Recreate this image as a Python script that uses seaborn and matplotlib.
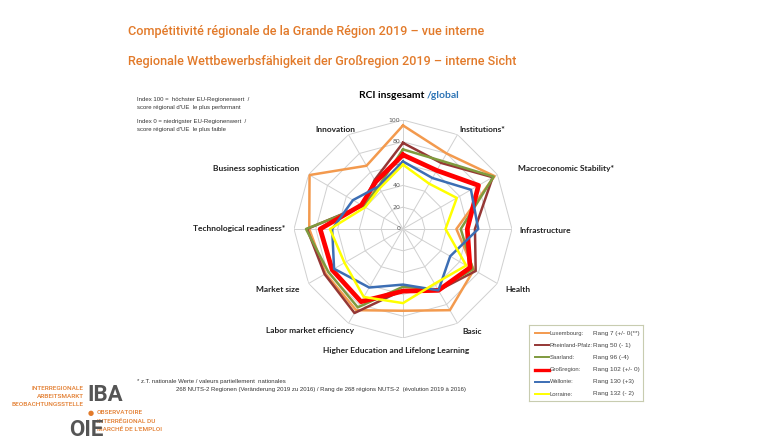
import numpy as np
import pandas as pd
import matplotlib.pyplot as plt
import seaborn as sns

plt.switch_backend('Agg')

# Axes of the radar, clockwise starting at the top
axes_labels = ['RCI', 'Institutions*', 'Macroeconomic Stability*', 'Infrastructure', 'Health', 'Basic',
               'Higher Education and Lifelong Learning', 'Labor market efficiency', 'Market size',
               'Technological readiness*', 'Business sophistication', 'Innovation']

regions = ['Luxembourg:', 'Rheinland-Pfalz:', 'Saarland:', 'Großregion:', 'Wallonie:', 'Lorraine:']
ranks = ['Rang 7 (+/- 0(**)', 'Rang 50 (- 1)', 'Rang 96 (-4)', 'Rang 102 (+/- 0)', 'Rang 130 (+3)', 'Rang 132 (- 2)']

luxembourg = [95, 80, 97, 49, 75, 86, 75, 86, 82, 86, 99, 67]
rheinland_pfalz = [79, 70, 95, 66, 77, 65, 56, 89, 83, 88, 43, 52]
saarland = [73, 72, 96, 53, 74, 64, 53, 83, 79, 89, 42, 45]
grossregion = [68, 62, 80, 59, 71, 65, 57, 77, 75, 76, 44, 50]
wallonie = [62, 54, 72, 69, 50, 65, 51, 62, 73, 65, 53, 45]
lorraine = [59, 48, 57, 39, 67, 58, 68, 72, 62, 67, 40, 43]

ring_values = [20, 40, 60, 80, 100]
tick_values = [0, 20, 40, 60, 80, 100]

series = [luxembourg, rheinland_pfalz, saarland, grossregion, wallonie, lorraine]
colors = ['#F39A4E', '#953735', '#7F9A3E', '#FF0000', '#3C6EB4', '#FFFF00']
widths = [1.8, 1.8, 1.8, 3.4, 1.8, 1.8]

orange = '#E27A2A'
grid_col = '#D0D0D0'

# Long table for seaborn
n = len(axes_labels)
theta = np.linspace(0, 2 * np.pi, n, endpoint=False)
rows = []
for name, vals in zip(regions, series):
    for t, v in zip(list(theta) + [theta[0] + 2 * np.pi], list(vals) + [vals[0]]):
        rows.append({'region': name, 'theta': t, 'value': v})
df = pd.DataFrame(rows)

fig = plt.figure(figsize=(7.68, 4.45), dpi=100)
fig.patch.set_facecolor('white')

W, H = 768, 445
cx, cy, R = 403, 229, 109
ax = fig.add_axes([(cx - R) / W, (H - cy - R) / H, 2 * R / W, 2 * R / H], projection='polar')
ax.set_theta_zero_location('N')
ax.set_theta_direction(-1)
ax.set_ylim(0, 100)
ax.grid(False)
ax.set_xticks([])
ax.set_yticks([])
ax.spines['polar'].set_visible(False)
ax.patch.set_alpha(0)

# Polygon grid
closed = np.append(theta, theta[0] + 2 * np.pi)
for r in ring_values:
    ax.plot(closed, [r] * len(closed), color=grid_col, lw=0.7, zorder=1)
for t in theta:
    ax.plot([t, t], [0, 100], color=grid_col, lw=0.7, zorder=1)
for r in tick_values:
    ax.annotate(str(r), xy=(0, r), xytext=(-2, 0), textcoords='offset points',
                ha='right', va='center', fontsize=4.5, color='#595959')

for name, col, lw in zip(regions, colors, widths):
    sub = df[df['region'] == name]
    sns.lineplot(data=sub, x='theta', y='value', sort=False, estimator=None,
                 color=col, linewidth=lw, ax=ax, zorder=3)
ax.set_xlabel('')
ax.set_ylabel('')
ax.set_ylim(0, 100)

# Titles
fig.text(128 / W, 1 - 32 / H, 'Compétitivité régionale de la Grande Région 2019 – vue interne',
         color=orange, fontsize=9.1, family='Roboto', weight='medium', va='center')
fig.text(128 / W, 1 - 62 / H, 'Regionale Wettbewerbsfähigkeit der Großregion 2019 – interne Sicht',
         color=orange, fontsize=9.1, family='Roboto', weight='medium', va='center')

fig.text(427 / W, 1 - 96 / H, 'RCI insgesamt ', fontsize=7.5, weight='bold', family='Lato',
         ha='right', va='center')
fig.text(427 / W, 1 - 96 / H, '/global', fontsize=7.5, weight='bold', family='Lato',
         color='#2E75B6', ha='left', va='center')

# Axis labels
label_pos = {
    'Institutions*': (482, 129),
    'Macroeconomic Stability*': (566, 169),
    'Infrastructure': (545, 230),
    'Health': (518, 289),
    'Basic': (472, 331),
    'Higher Education and Lifelong Learning': (396, 350),
    'Labor market efficiency': (310, 330),
    'Market size': (278, 289),
    'Technological readiness*': (239, 229),
    'Business sophistication': (256, 169),
    'Innovation': (335, 129),
}
for lab, (x, y) in label_pos.items():
    fig.text(x / W, 1 - y / H, lab, fontsize=6, weight='bold', family='Lato',
             ha='center', va='center', color='#222222')

# Index notes
notes = [('Index 100 =  höchster EU-Regionenwert  /', 99), ("score régional d'UE  le plus performant", 108),
         ('Index 0 = niedrigster EU-Regionenwert  /', 121), ("score régional d'UE  le plus faible", 130)]
for txt, y in notes:
    fig.text(137 / W, 1 - y / H, txt, fontsize=4.3, family='Liberation Sans', va='center', color='#333333')

fig.text(137 / W, 1 - 381 / H, '* z.T. nationale Werte / valeurs partiellement  nationales',
         fontsize=4.3, family='Liberation Sans', va='center', color='#333333')
fig.text(176 / W, 1 - 390 / H,
         '268 NUTS-2 Regionen (Veränderung 2019 zu 2016) / Rang de 268 régions NUTS-2  (évolution 2019 à 2016)',
         fontsize=4.3, family='Liberation Sans', va='center', color='#333333')

# Legend box
lax = fig.add_axes([529 / W, 1 - 401 / H, 114 / W, 76 / H])
lax.set_xlim(0, 114)
lax.set_ylim(76, 0)
lax.set_xticks([])
lax.set_yticks([])
for s in lax.spines.values():
    s.set_color('#C8CCB0')
    s.set_linewidth(0.8)
for i, (name, rank, col) in enumerate(zip(regions, ranks, colors)):
    y = 8 + i * 12.2
    lax.plot([6, 20], [y, y], color=col, lw=2.4 if i == 3 else 1.4)
    lax.text(20.5, y, name, fontsize=4.2, va='center', family='Liberation Sans', color='#444444')
    lax.text(64, y, rank, fontsize=4.6, va='center', family='Liberation Sans', color='#444444')

# Logo
for txt, y in [('INTERREGIONALE', 388), ('ARBEITSMARKT', 396), ('BEOBACHTUNGSSTELLE', 404)]:
    fig.text(84 / W, 1 - y / H, txt, fontsize=4.6, color=orange, family='Roboto', weight='medium',
             ha='right', va='center')
for txt, y in [('OBSERVATOIRE', 413), ('INTERRÉGIONAL DU', 421), ("MARCHÉ DE L'EMPLOI", 429)]:
    fig.text(97 / W, 1 - y / H, txt, fontsize=4.6, color=orange, family='Roboto', weight='medium',
             ha='left', va='center')
fig.text(87 / W, 1 - 395 / H, 'IBA', fontsize=16, color='#555555', family='Roboto', weight='bold',
         ha='left', va='center')
fig.text(69 / W, 1 - 430 / H, 'OIE', fontsize=16, color='#555555', family='Roboto', weight='bold',
         ha='left', va='center')
fig.text(91 / W, 1 - 413 / H, '●', fontsize=5, color=orange, ha='center', va='center')

fig.savefig('out.png', dpi=100)
